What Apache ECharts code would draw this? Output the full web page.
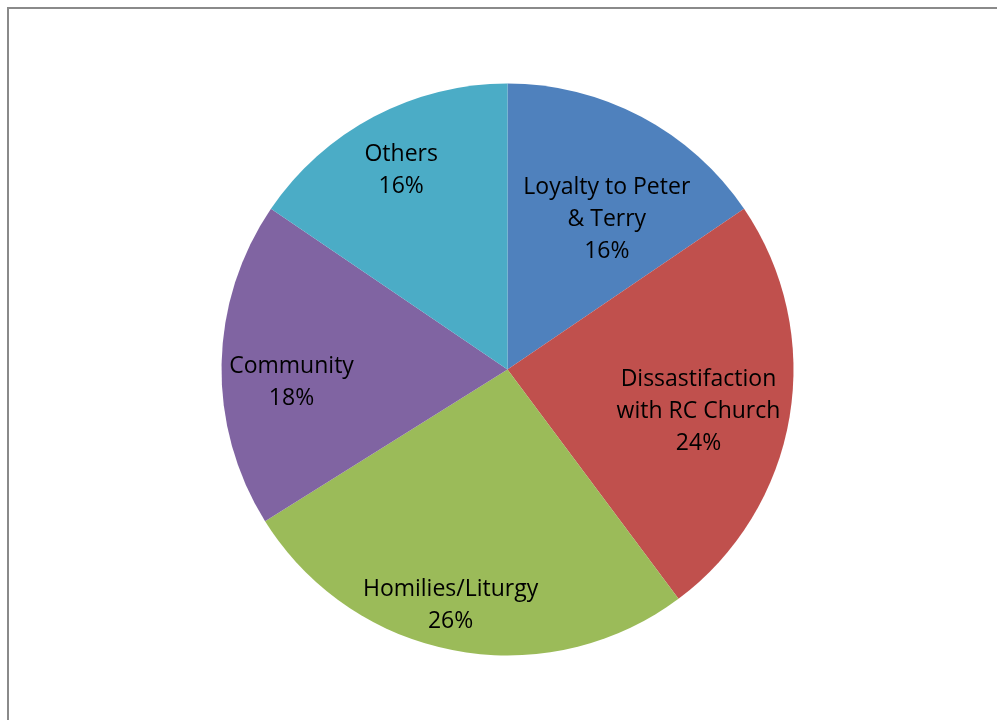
<!DOCTYPE html>
<html>
<head>
<meta charset="utf-8">
<script src="https://cdn.jsdelivr.net/npm/echarts@6/dist/echarts.min.js"></script>
<style>
html,body{margin:0;padding:0;background:#fff;}
#chart{width:997px;height:720px;}
</style>
</head>
<body>
<div id="chart"></div>
<script>
const categories = ['Loyalty to Peter\n& Terry', 'Dissastifaction\nwith RC Church', 'Homilies/Liturgy', 'Community', 'Others'];
const values = [15.5, 24.3, 26.3, 18.4, 15.5];
const colors = ['#4F81BD', '#C0504D', '#9BBB59', '#8064A2', '#4BACC6'];
// label shifts from the default inside position (style only)
const labelShift = [[31, -21], [47, 18], [-30, 92], [-70, 16], [-38, -70]];

const chart = echarts.init(document.getElementById('chart'), null, {renderer: 'canvas'});
chart.setOption({
  animation: false,
  backgroundColor: '#fff',
  graphic: [{
    type: 'rect',
    shape: {x: 8, y: 8, width: 1200, height: 900},
    style: {fill: 'none', stroke: '#8a8a8a', lineWidth: 2},
    silent: true
  }],
  series: [{
    type: 'pie',
    center: [507.5, 369.5],
    radius: 286,
    startAngle: 90,
    clockwise: true,
    data: categories.map((c, i) => ({name: c, value: values[i], itemStyle: {color: colors[i]}})),
    label: {
      show: true,
      position: 'inside',
      formatter: p => p.name + '\n' + Math.round(p.percent) + '%',
      fontFamily: '"Open Sans", Lato, sans-serif',
      fontSize: 23,
      lineHeight: 32,
      color: '#000',
      align: 'center'
    },
    labelLayout: p => ({dx: labelShift[p.dataIndex][0], dy: labelShift[p.dataIndex][1]}),
    labelLine: {show: false},
    itemStyle: {borderWidth: 0},
    emphasis: {disabled: true}
  }]
});
</script>
</body>
</html>
